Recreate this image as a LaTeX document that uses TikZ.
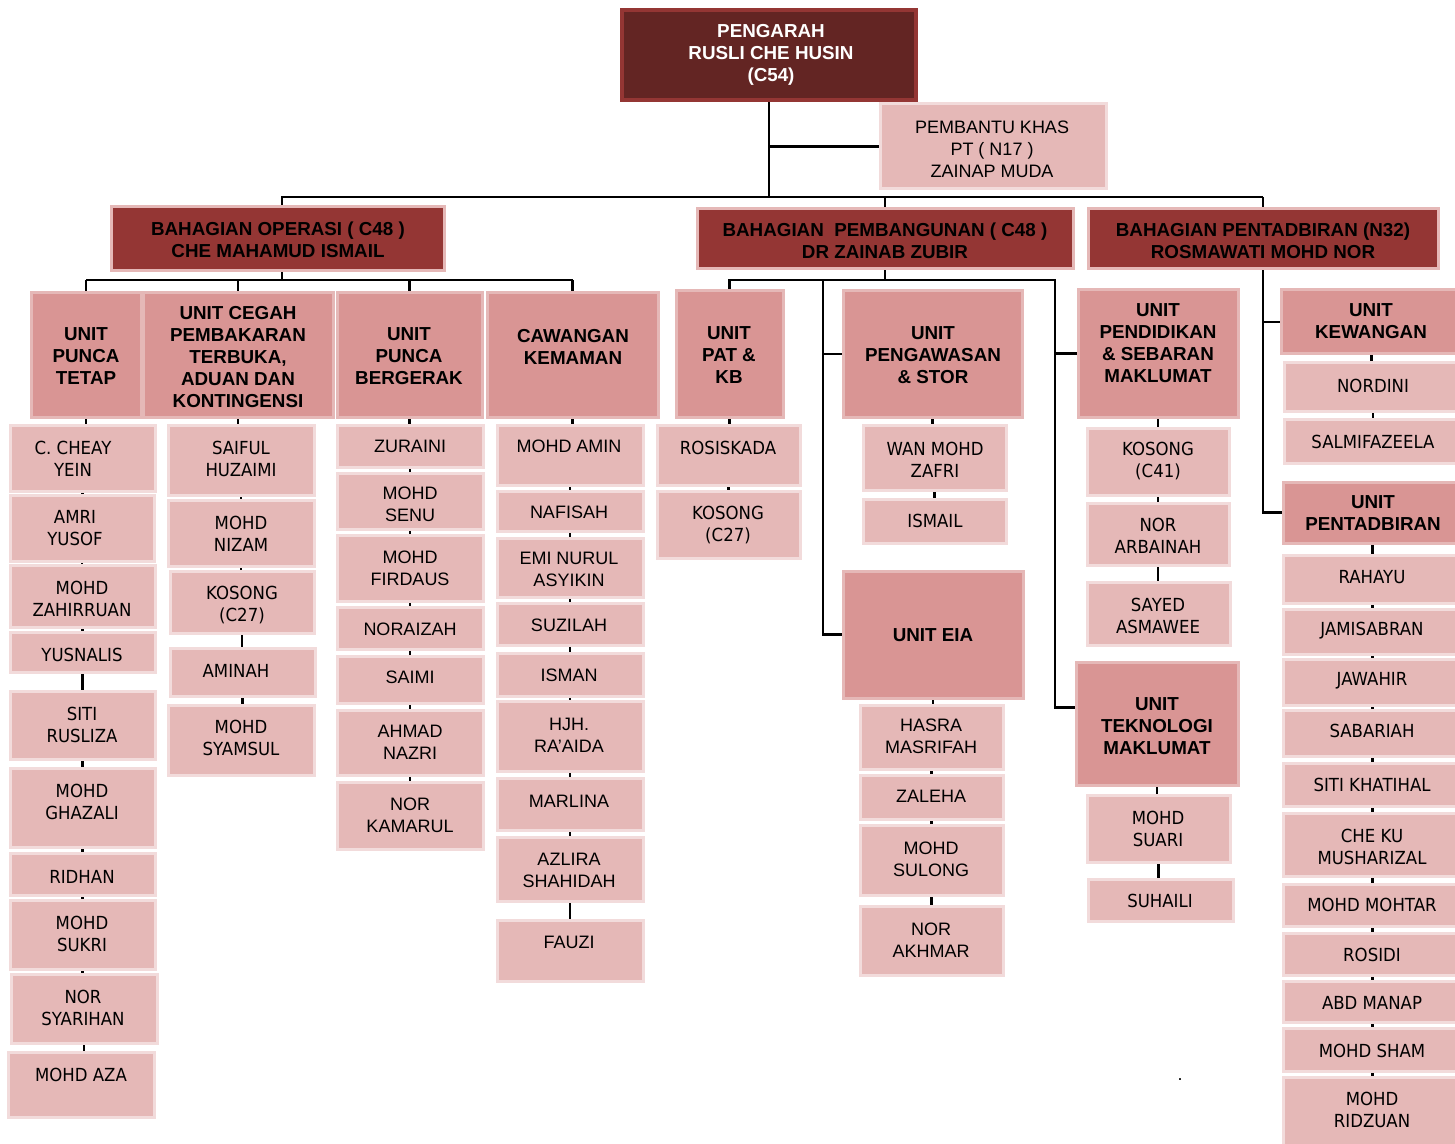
\documentclass[tikz,border=0pt]{standalone}
\usepackage{fontspec}
\setmainfont{Liberation Sans}
\newfontfamily\tahomafont[FakeStretch=0.92]{DejaVu Sans}
\usetikzlibrary{fit,calc}
\definecolor{JAS_dark}{HTML}{632523}
\definecolor{JAS_red}{HTML}{943634}
\definecolor{JAS_rose}{HTML}{D99594}
\definecolor{JAS_pink}{HTML}{E5B8B7}
\definecolor{JAS_blush}{HTML}{F2DBDB}
\pgfdeclarelayer{background}
\pgfsetlayers{background,main}
% box: style, text style, name, corner, corner, text position, text
\newcommand{\orgbox}[7]{%
  \node[#1, fit={#4 #5}] (#3) {};
  \node[#2] (#3-t) at #6 {#7};}

\begin{document}
\begin{tikzpicture}[x=0.5pt, y=-0.5pt,
    topbox/.style={draw=JAS_red, fill=JAS_dark, line width=2pt, inner sep=0pt},
    divbox/.style={draw=JAS_pink, fill=JAS_red, line width=1.5pt, inner sep=0pt},
    unitbox/.style={draw=JAS_pink, fill=JAS_rose, line width=1.5pt, inner sep=0pt},
    namebox/.style={draw=JAS_blush, fill=JAS_pink, line width=1.5pt, inner sep=0pt},
    toptext/.style={text=white, font=\bfseries\fontsize{9.4}{11}\selectfont, align=center, inner sep=0pt},
    headtext/.style={font=\bfseries\fontsize{9.4}{11}\selectfont, align=center, inner sep=0pt},
    aname/.style={font=\fontsize{9}{11}\selectfont, align=center, inner sep=0pt},
    tname/.style={font=\tahomafont\fontsize{9}{11}\selectfont, align=center, inner sep=0pt},
    link/.style={draw=black, line width=1.3pt}]
  \useasboundingbox (0,0) rectangle (1455,1144);
  % Pengarah and bahagian
  \orgbox{topbox}{toptext}{peng}{(622,10)}{(916,100)}{(771,55)}{PENGARAH\\RUSLI CHE HUSIN\\(C54)}
  \orgbox{namebox}{aname}{pemb}{(880,104)}{(1106,189)}{(992,149)}{PEMBANTU KHAS\\PT ( N17 )\\ZAINAP MUDA}
  \orgbox{divbox}{headtext}{ops}{(111,207)}{(444,271)}{(278,240)}{BAHAGIAN OPERASI ( C48 )\\CHE MAHAMUD ISMAIL}
  \orgbox{divbox}{headtext}{pbg}{(697,209)}{(1073,269)}{(885,241)}{BAHAGIAN\ \ PEMBANGUNAN ( C48 )\\DR ZAINAB ZUBIR}
  \orgbox{divbox}{headtext}{ptd}{(1088,209)}{(1438,269)}{(1263,241)}{BAHAGIAN PENTADBIRAN (N32)\\ROSMAWATI MOHD NOR}
  % Units
  \orgbox{unitbox}{headtext}{ut}{(31,293)}{(141,417)}{(86,356)}{UNIT\\PUNCA\\TETAP}
  \orgbox{unitbox}{headtext}{uc}{(143,293)}{(333,417)}{(238,357)}{UNIT CEGAH\\PEMBAKARAN\\TERBUKA,\\ADUAN DAN\\KONTINGENSI}
  \orgbox{unitbox}{headtext}{ub}{(337,293)}{(482,417)}{(409,356)}{UNIT\\PUNCA\\BERGERAK}
  \orgbox{unitbox}{headtext}{uk}{(487,293)}{(658,417)}{(573,347)}{CAWANGAN\\KEMAMAN}
  \orgbox{unitbox}{headtext}{upat}{(676,291)}{(783,417)}{(729,355)}{UNIT\\PAT \&\\KB}
  \orgbox{unitbox}{headtext}{upg}{(843,291)}{(1022,417)}{(933,355)}{UNIT\\PENGAWASAN\\\& STOR}
  \orgbox{unitbox}{headtext}{ueia}{(843,571)}{(1023,698)}{(933,635)}{UNIT EIA}
  \orgbox{unitbox}{headtext}{upd}{(1078,290)}{(1238,417)}{(1158,343)}{UNIT\\PENDIDIKAN\\\& SEBARAN\\MAKLUMAT}
  \orgbox{unitbox}{headtext}{utek}{(1076,662)}{(1238,785)}{(1157,726)}{UNIT\\TEKNOLOGI\\MAKLUMAT}
  \orgbox{unitbox}{headtext}{ukew}{(1281,290)}{(1462,354)}{(1371,321)}{UNIT\\KEWANGAN}
  \orgbox{unitbox}{headtext}{upen}{(1283,482)}{(1462,543)}{(1373,513)}{UNIT\\PENTADBIRAN}
  % Punca tetap
  \orgbox{namebox}{tname}{n11}{(10,425)}{(155,491)}{(73,459)}{C. CHEAY\\YEIN}
  \orgbox{namebox}{tname}{n12}{(10,495)}{(154,561)}{(75,528)}{AMRI\\YUSOF}
  \orgbox{namebox}{tname}{n13}{(10,565)}{(155,627)}{(82,599)}{MOHD\\ZAHIRRUAN}
  \orgbox{namebox}{tname}{n14}{(10,632)}{(155,672)}{(82,655)}{YUSNALIS}
  \orgbox{namebox}{tname}{n15}{(10,691)}{(155,759)}{(82,725)}{SITI\\RUSLIZA}
  \orgbox{namebox}{tname}{n16}{(10,768)}{(155,847)}{(82,802)}{MOHD\\GHAZALI}
  \orgbox{namebox}{tname}{n17}{(10,853)}{(155,895)}{(82,877)}{RIDHAN}
  \orgbox{namebox}{tname}{n18}{(10,900)}{(155,969)}{(82,934)}{MOHD\\SUKRI}
  \orgbox{namebox}{tname}{n19}{(11,974)}{(157,1043)}{(83,1008)}{NOR\\SYARIHAN}
  \orgbox{namebox}{tname}{n1a}{(8,1052)}{(154,1117)}{(81,1075)}{MOHD AZA}
  % Cegah pembakaran
  \orgbox{namebox}{tname}{n21}{(168,425)}{(314,495)}{(241,459)}{SAIFUL\\HUZAIMI}
  \orgbox{namebox}{tname}{n22}{(168,500)}{(314,566)}{(241,534)}{MOHD\\NIZAM}
  \orgbox{namebox}{tname}{n23}{(170,571)}{(314,633)}{(242,605)}{KOSONG\\(C27)}
  \orgbox{namebox}{tname}{n24}{(170,648)}{(315,696)}{(236,671)}{AMINAH}
  \orgbox{namebox}{tname}{n25}{(168,705)}{(314,775)}{(241,738)}{MOHD\\SYAMSUL}
  % Punca bergerak
  \orgbox{namebox}{aname}{n31}{(337,425)}{(483,467)}{(410,446)}{ZURAINI}
  \orgbox{namebox}{aname}{n32}{(337,473)}{(483,529)}{(410,504)}{MOHD\\SENU}
  \orgbox{namebox}{aname}{n33}{(337,535)}{(483,601)}{(410,568)}{MOHD\\FIRDAUS}
  \orgbox{namebox}{aname}{n34}{(337,607)}{(483,649)}{(410,629)}{NORAIZAH}
  \orgbox{namebox}{aname}{n35}{(337,656)}{(483,703)}{(410,677)}{SAIMI}
  \orgbox{namebox}{aname}{n36}{(337,710)}{(483,775)}{(410,742)}{AHMAD\\NAZRI}
  \orgbox{namebox}{aname}{n37}{(337,782)}{(483,849)}{(410,815)}{NOR\\KAMARUL}
  % Kemaman
  \orgbox{namebox}{aname}{n41}{(497,425)}{(643,485)}{(569,446)}{MOHD AMIN}
  \orgbox{namebox}{aname}{n42}{(497,491)}{(643,531)}{(569,512)}{NAFISAH}
  \orgbox{namebox}{aname}{n43}{(497,538)}{(643,597)}{(569,569)}{EMI NURUL\\ASYIKIN}
  \orgbox{namebox}{aname}{n44}{(497,603)}{(643,645)}{(569,625)}{SUZILAH}
  \orgbox{namebox}{aname}{n45}{(497,653)}{(643,696)}{(569,675)}{ISMAN}
  \orgbox{namebox}{aname}{n46}{(497,701)}{(643,771)}{(569,735)}{HJH.\\RA’AIDA}
  \orgbox{namebox}{aname}{n47}{(497,778)}{(643,830)}{(569,801)}{MARLINA}
  \orgbox{namebox}{aname}{n48}{(497,837)}{(643,901)}{(569,870)}{AZLIRA\\SHAHIDAH}
  \orgbox{namebox}{aname}{n49}{(497,920)}{(643,981)}{(569,942)}{FAUZI}
  % Pat & KB, pengawasan, EIA
  \orgbox{namebox}{tname}{n51}{(657,425)}{(800,485)}{(728,448)}{ROSISKADA}
  \orgbox{namebox}{tname}{n52}{(657,491)}{(800,558)}{(728,525)}{KOSONG\\(C27)}
  \orgbox{namebox}{tname}{n61}{(863,425)}{(1006,490)}{(935,460)}{WAN MOHD\\ZAFRI}
  \orgbox{namebox}{tname}{n62}{(863,499)}{(1006,543)}{(935,521)}{ISMAIL}
  \orgbox{namebox}{aname}{n71}{(860,705)}{(1003,769)}{(931,736)}{HASRA\\MASRIFAH}
  \orgbox{namebox}{aname}{n72}{(860,775)}{(1003,819)}{(931,796)}{ZALEHA}
  \orgbox{namebox}{aname}{n73}{(860,825)}{(1003,895)}{(931,859)}{MOHD\\SULONG}
  \orgbox{namebox}{aname}{n74}{(860,906)}{(1003,975)}{(931,940)}{NOR\\AKHMAR}
  % Pendidikan, teknologi
  \orgbox{namebox}{tname}{n81}{(1087,428)}{(1229,495)}{(1158,461)}{KOSONG\\(C41)}
  \orgbox{namebox}{tname}{n82}{(1087,503)}{(1229,565)}{(1158,536)}{NOR\\ARBAINAH}
  \orgbox{namebox}{tname}{n83}{(1087,582)}{(1230,645)}{(1158,616)}{SAYED\\ASMAWEE}
  \orgbox{namebox}{tname}{n91}{(1087,795)}{(1230,862)}{(1158,829)}{MOHD\\SUARI}
  \orgbox{namebox}{tname}{n92}{(1088,879)}{(1233,921)}{(1160,901)}{SUHAILI}
  % Kewangan, pentadbiran
  \orgbox{namebox}{tname}{nk1}{(1284,363)}{(1462,411)}{(1373,386)}{NORDINI}
  \orgbox{namebox}{tname}{nk2}{(1284,419)}{(1462,463)}{(1373,442)}{SALMIFAZEELA}
  \orgbox{namebox}{tname}{np1}{(1283,555)}{(1462,603)}{(1372,577)}{RAHAYU}
  \orgbox{namebox}{tname}{np2}{(1283,609)}{(1462,654)}{(1372,631)}{JAMISABRAN}
  \orgbox{namebox}{tname}{np3}{(1283,659)}{(1462,705)}{(1372,681)}{JAWAHIR}
  \orgbox{namebox}{tname}{np4}{(1283,710)}{(1462,756)}{(1372,731)}{SABARIAH}
  \orgbox{namebox}{tname}{np5}{(1283,763)}{(1462,806)}{(1372,785)}{SITI KHATIHAL}
  \orgbox{namebox}{tname}{np6}{(1283,813)}{(1462,876)}{(1372,847)}{CHE KU\\MUSHARIZAL}
  \orgbox{namebox}{tname}{np7}{(1283,884)}{(1462,926)}{(1372,905)}{MOHD MOHTAR}
  \orgbox{namebox}{tname}{np8}{(1283,933)}{(1462,975)}{(1372,955)}{ROSIDI}
  \orgbox{namebox}{tname}{np9}{(1283,981)}{(1462,1022)}{(1372,1003)}{ABD MANAP}
  \orgbox{namebox}{tname}{npa}{(1283,1028)}{(1462,1071)}{(1372,1051)}{MOHD SHAM}
  \orgbox{namebox}{tname}{npb}{(1283,1077)}{(1462,1150)}{(1372,1110)}{MOHD\\RIDZUAN}
  \node[aname] (dot) at (1180,1080) {.};
  % Connectors
  \begin{pgfonlayer}{background}
    \coordinate (bus) at (0,197);
    \coordinate (opsbus) at (0,280);
    \coordinate (opsx) at (282,0);
    \coordinate (pgx) at (823,0);
    \coordinate (pdx) at (1055,0);
    \draw[link] (peng.south) -- (peng.south |- bus);
    \draw[link] (peng.south |- pemb.west) -- (pemb.west);
    \draw[link] (opsx |- ops.north) |- (ptd.north |- bus);
    \foreach \d in {pbg,ptd} \draw[link] (\d.north |- bus) -- (\d.north);
    \draw[link] (opsx |- ops.south) -- (opsx |- opsbus);
    \draw[link] (ut.north |- opsbus) -- (uk.north |- opsbus);
    \foreach \u in {ut,uc,ub,uk} \draw[link] (\u.north |- opsbus) -- (\u.north);
    \draw[link] (pbg.south) -- (pbg.south |- opsbus);
    \draw[link] (upat.north) |- (pdx |- opsbus) |- ($(utek.west)+(0,-16)$);
    \draw[link] (pgx |- opsbus) |- (ueia.west);
    \draw[link] (pgx |- upg.west) -- (upg.west);
    \draw[link] (pdx |- upd.west) -- (upd.west);
    \draw[link] (ptd.south) |- (upen.west);
    \draw[link] (ptd.south |- ukew.west) -- (ukew.west);
    \foreach \a/\b in {ut/n11,n11/n12,n12/n13,n13/n14,n14/n15,n15/n16,n16/n17,n17/n18,n18/n19,n19/n1a,
        uc/n21,n21/n22,n22/n23,n23/n24,n24/n25,
        ub/n31,n31/n32,n32/n33,n33/n34,n34/n35,n35/n36,n36/n37,
        uk/n41,n41/n42,n42/n43,n43/n44,n44/n45,n45/n46,n46/n47,n47/n48,n48/n49,
        upat/n51,n51/n52,upg/n61,n61/n62,ueia/n71,n71/n72,n72/n73,n73/n74,
        upd/n81,n81/n82,n82/n83,utek/n91,n91/n92,ukew/nk1,nk1/nk2,
        upen/np1,np1/np2,np2/np3,np3/np4,np4/np5,np5/np6,np6/np7,np7/np8,np8/np9,np9/npa,npa/npb}
      \draw[link] (\a.south) -- (\a.south |- \b.north);
  \end{pgfonlayer}
\end{tikzpicture}
\end{document}
